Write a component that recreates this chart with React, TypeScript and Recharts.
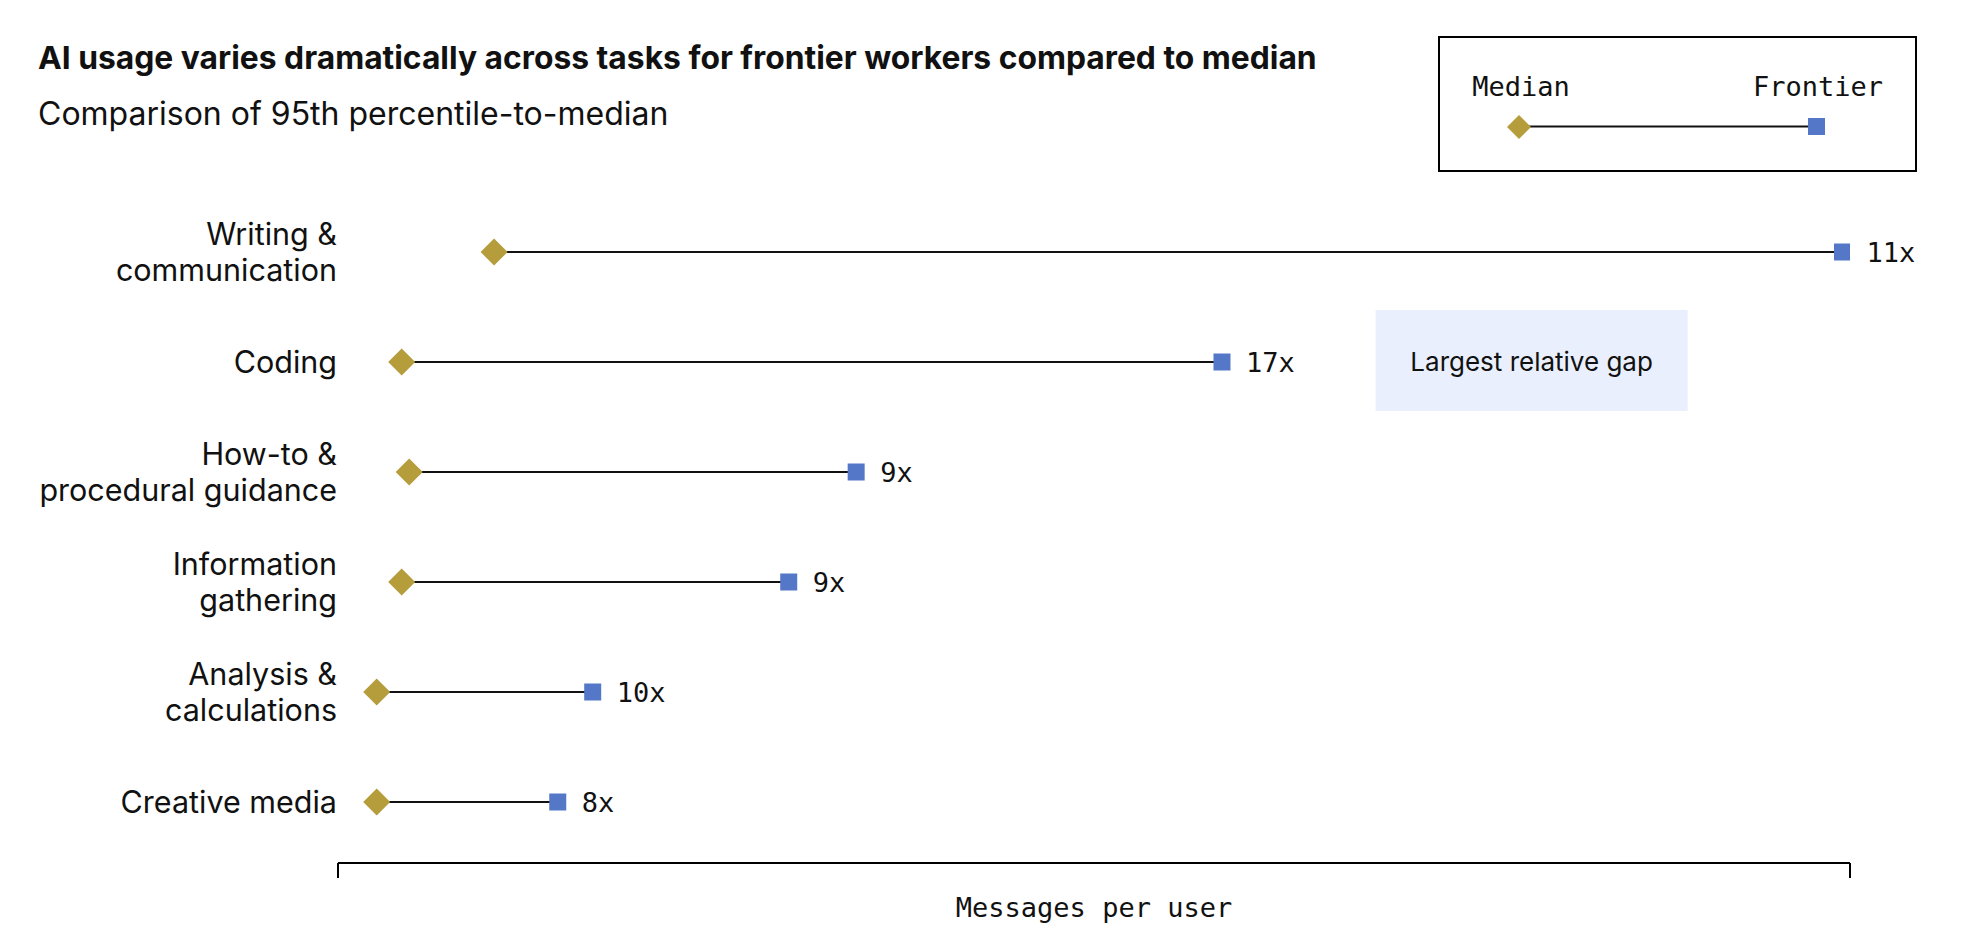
import { Bar, ComposedChart, LabelList, ReferenceArea, XAxis, YAxis } from "recharts"

const SANS = "Inter, 'Noto Sans', sans-serif"
const MONO = "'DejaVu Sans Mono', monospace"
const GOLD = "#B59D3B"
const BLUE = "#5577C8"
const INK = "#111111"

const tasks = [
  "Writing &\ncommunication",
  "Coding",
  "How-to &\nprocedural guidance",
  "Information\ngathering",
  "Analysis &\ncalculations",
  "Creative media",
]
const median = [11.4, 4.0, 4.6, 4.0, 2.0, 2.0]
const frontier = [119.4, 69.7, 40.4, 35.0, 19.3, 16.5]
const ratios = ["11x", "17x", "9x", "9x", "10x", "8x"]

const xDomain = [-1.1, 120]

const noteTask = "Coding"
const noteRange = [82, 107]
const noteText = "Largest relative gap"

const data = tasks.map((task, i) => ({
  task,
  range: [median[i], frontier[i]],
  ratio: ratios[i],
}))

function Dumbbell(props: any) {
  const { x, y, width, height } = props
  const cy = y + height / 2
  const x1 = x
  const x2 = x + width
  const d = 13.5
  return (
    <g>
      <line x1={x1} x2={x2} y1={cy} y2={cy} stroke={INK} strokeWidth={2} />
      <polygon points={`${x1 - d},${cy} ${x1},${cy - d} ${x1 + d},${cy} ${x1},${cy + d}`} fill={GOLD} />
      <rect x={x2 - 8.5} y={cy - 8.5} width={17} height={17} fill={BLUE} />
    </g>
  )
}

function TaskTick(props: any) {
  const { x, y, payload } = props
  const lines = String(payload.value).split("\n")
  const fs = 30.5
  const lh = 36
  const first = -((lines.length - 1) * lh) / 2 + fs * 0.36
  return (
    <text x={x} y={y} textAnchor="end" fontFamily={SANS} fontSize={fs} fill={INK}>
      {lines.map((l, i) => (
        <tspan key={i} x={x} dy={i === 0 ? first : lh}>
          {l}
        </tspan>
      ))}
    </text>
  )
}

function NoteBox(props: any) {
  const { x, y, width, height } = props
  return <rect x={x} y={y + 3} width={width} height={height - 9} fill="#E9EFFC" />
}

export default function App() {
  return (
    <div style={{ position: "absolute", left: 0, top: 0, width: 1970, height: 952, background: "#fff" }}>
      <ComposedChart
        width={1970}
        height={952}
        data={data}
        layout="vertical"
        margin={{ top: 197, right: 120, bottom: 29, left: 0 }}
        barCategoryGap={0}
      >
        <XAxis
          type="number"
          domain={xDomain}
          ticks={xDomain}
          interval={0}
          allowDataOverflow
          tickFormatter={() => ""}
          tickSize={15}
          stroke="#000"
          strokeWidth={2}
          height={60}
          label={{
            value: "Messages per user",
            position: "insideBottom",
            offset: 6,
            fontFamily: MONO,
            fontSize: 27,
            fill: INK,
          }}
        />
        <YAxis
          type="category"
          dataKey="task"
          width={338}
          axisLine={false}
          tickLine={false}
          tickSize={0}
          tickMargin={1}
          padding={{ top: 0, bottom: 6 }}
          tick={<TaskTick />}
          interval={0}
        />
        <ReferenceArea
          x1={noteRange[0]}
          x2={noteRange[1]}
          y1={noteTask}
          y2={noteTask}
          shape={<NoteBox />}
          label={{ value: noteText, position: "center", fontFamily: SANS, fontSize: 26, fill: INK }}
        />
        <Bar dataKey="range" shape={<Dumbbell />} isAnimationActive={false}>
          <LabelList dataKey="ratio" position="right" offset={24} fontFamily={MONO} fontSize={27} fill={INK} />
        </Bar>
      </ComposedChart>
      <svg
        width={1970}
        height={952}
        style={{ position: "absolute", left: 0, top: 0, pointerEvents: "none" }}
      >
        <text x={38} y={69} fontFamily={SANS} fontWeight={700} fontSize={31.8} fill={INK}>
          AI usage varies dramatically across tasks for frontier workers compared to median
        </text>
        <text x={38} y={125} fontFamily={SANS} fontSize={32} fill={INK}>
          Comparison of 95th percentile-to-median
        </text>
        <rect x={1439} y={37} width={477} height={134} fill="none" stroke="#000" strokeWidth={2} />
        <text x={1521} y={96} textAnchor="middle" fontFamily={MONO} fontSize={27} fill={INK}>
          Median
        </text>
        <text x={1818} y={96} textAnchor="middle" fontFamily={MONO} fontSize={27} fill={INK}>
          Frontier
        </text>
        <line x1={1519} x2={1816} y1={126.5} y2={126.5} stroke={INK} strokeWidth={2} />
        <polygon points="1507,127 1519,115 1531,127 1519,139" fill={GOLD} />
        <rect x={1808} y={118} width={17} height={17} fill={BLUE} />
      </svg>
    </div>
  )
}
